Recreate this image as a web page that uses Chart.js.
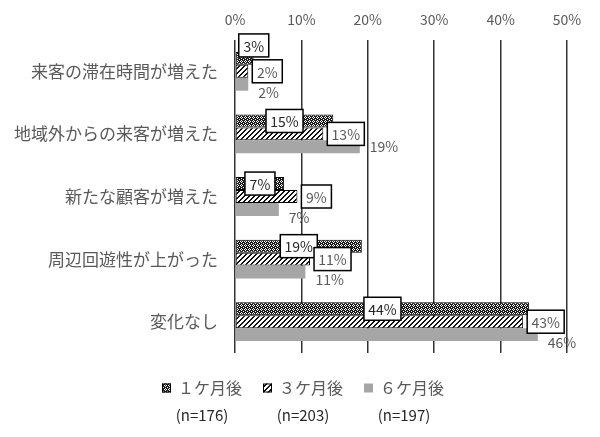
<!DOCTYPE html>
<html>
<head>
<meta charset="utf-8">
<script src="https://cdn.jsdelivr.net/npm/chart.js@4.4.0/dist/chart.umd.min.js"></script>
<style>
    html, body { margin: 0; padding: 0; background: #fff; }
    #wrap { width: 600px; height: 437px; }
</style>
</head>
<body>
<div id="wrap"><canvas id="chart" width="600" height="437"></canvas></div>
<script>
// データ
const categories = ['来客の滞在時間が増えた', '地域外からの来客が増えた', '新たな顧客が増えた', '周辺回遊性が上がった', '変化なし'];
const seriesNames = ['１ケ月後', '３ケ月後', '６ケ月後'];
const sampleSizes = ['(n=176)', '(n=203)', '(n=197)'];
const after1m = [2.8, 14.8, 7.4, 19.1, 44.3];
const after3m = [2.0, 13.3, 9.4, 11.3, 43.4];
const after6m = [2.0, 18.8, 6.6, 10.6, 45.6];
const xMax = 50;
const xStep = 10;

const FONT = '"Noto Sans CJK JP", "Noto Sans", sans-serif';
Chart.defaults.font.family = FONT;

/**
 * パターン塗り (Excel風)
 */
function makePattern(type) {
    const c = document.createElement('canvas');
    const g = c.getContext('2d');
    if (type === 'check') {
        c.width = 4; c.height = 4;
        g.fillStyle = '#1a1a1a';
        g.fillRect(0, 0, 4, 4);
        g.fillStyle = '#ffffff';
        g.fillRect(1, 0, 1, 1);
        g.fillRect(0, 1, 1, 1);
        g.fillRect(2, 1, 1, 1);
        g.fillRect(1, 2, 1, 1);
        g.fillRect(3, 3, 1, 1);
    } else {
        c.width = 5; c.height = 5;
        g.fillStyle = '#ffffff';
        g.fillRect(0, 0, 5, 5);
        g.fillStyle = '#111111';
        for (let y = 0; y < 5; y++) {
            g.fillRect((4 - y + 5) % 5, y, 1, 1);
            g.fillRect((5 - y + 5) % 5, y, 1, 1);
        }
    }
    return g.createPattern(c, 'repeat');
}

const checkFill = makePattern('check');
const hatchFill = makePattern('hatch');
const grayFill = '#a6a6a6';

function drawBox(ctx, x, y, w, h, text, color) {
    ctx.fillStyle = '#fff';
    ctx.fillRect(x, y, w, h);
    ctx.strokeStyle = '#000';
    ctx.lineWidth = 1.5;
    ctx.strokeRect(x, y, w, h);
    ctx.fillStyle = color;
    ctx.textAlign = 'center';
    ctx.fillText(text, x + w / 2, y + h / 2 + 1);
}

// データラベル
const barLabels = {
    id: 'barLabels',
    afterDatasetsDraw(chart) {
        const ctx = chart.ctx;
        ctx.save();
        ctx.font = '14px ' + FONT;
        ctx.textBaseline = 'middle';
        for (let i = 0; i < categories.length; i++) {
            const boxes = [];
            chart.data.datasets.forEach((ds, di) => {
                const el = chart.getDatasetMeta(di).data[i];
                const text = Math.round(ds.data[i]) + '%';
                const tw = ctx.measureText(text).width;
                const bw = Math.round(tw + 9), bh = 23;
                if (di === 0) {
                    let cx = (el.x + el.base) / 2, cy = el.y;
                    if (el.x - el.base < bw) {
                        cx = el.base + 3 + bw / 2;
                        cy = el.y - el.height;
                    }
                    drawBox(ctx, cx - bw / 2, cy - bh / 2, bw, bh, text, '#262626');
                } else if (di === 1) {
                    const x0 = el.x + 4;
                    drawBox(ctx, x0, el.y - bh / 2, bw, bh, text, '#595959');
                    boxes.push([x0, x0 + bw]);
                } else {
                    const x0 = el.x + 10;
                    let cy = el.y;
                    if (boxes.some(b => x0 < b[1] && x0 + tw > b[0])) cy += 8;
                    ctx.fillStyle = '#595959';
                    ctx.textAlign = 'left';
                    ctx.fillText(text, x0, cy);
                }
            });
        }
        ctx.restore();
    }
};

// 凡例 (2段)
const legend2 = {
    id: 'legend2',
    afterDraw(chart) {
        const ctx = chart.ctx;
        const fills = [checkFill, hatchFill, grayFill];
        ctx.save();
        ctx.textBaseline = 'middle';
        ctx.font = '16px ' + FONT;
        const box = 9, gap = 7, itemGap = 21;
        const widths = seriesNames.map(n => box + gap + ctx.measureText(n).width);
        const total = widths.reduce((a, b) => a + b, 0) + itemGap * (widths.length - 1);
        let x = 303 - total / 2;
        const y1 = 388, y2 = 415;
        seriesNames.forEach((name, i) => {
            ctx.fillStyle = fills[i];
            ctx.fillRect(x, y1 - box / 2, box, box);
            if (i < 2) {
                ctx.strokeStyle = '#000';
                ctx.lineWidth = 1;
                ctx.strokeRect(x + 0.5, y1 - box / 2 + 0.5, box - 1, box - 1);
            }
            ctx.font = '16px ' + FONT;
            ctx.fillStyle = '#595959';
            ctx.textAlign = 'left';
            ctx.fillText(name, x + box + gap, y1);
            ctx.font = '15px ' + FONT;
            ctx.fillStyle = '#262626';
            ctx.textAlign = 'center';
            ctx.fillText(sampleSizes[i], x + widths[i] / 2, y2);
            x += widths[i] + itemGap;
        });
        ctx.restore();
    }
};

const chart = new Chart(document.getElementById('chart'), {
    type: 'bar',
    data: {
        labels: categories,
        datasets: [
            { label: seriesNames[0], data: after1m, backgroundColor: checkFill, borderColor: '#000', borderWidth: 1, borderSkipped: false },
            { label: seriesNames[1], data: after3m, backgroundColor: hatchFill, borderColor: '#000', borderWidth: 1, borderSkipped: false },
            { label: seriesNames[2], data: after6m, backgroundColor: grayFill, borderWidth: 0 }
        ]
    },
    options: {
        indexAxis: 'y',
        responsive: false,
        animation: false,
        layout: { padding: { top: 0, right: 33, bottom: 84, left: 0 } },
        datasets: { bar: { categoryPercentage: 0.62, barPercentage: 1.0 } },
        plugins: {
            legend: { display: false },
            tooltip: { enabled: false }
        },
        scales: {
            x: {
                position: 'top',
                min: 0,
                max: xMax,
                ticks: {
                    stepSize: xStep,
                    callback: v => v + '%',
                    color: '#595959',
                    font: { size: 14 },
                    padding: 12
                },
                grid: { color: '#333', lineWidth: 1.5, drawTicks: false },
                border: { display: false },
                afterFit(scale) {
                    scale.height = 40;
                    scale.paddingLeft = 0;
                    scale.paddingRight = 0;
                }
            },
            y: {
                ticks: { color: '#595959', font: { size: 17 }, padding: 17 },
                grid: { display: false, drawTicks: false },
                border: { display: false },
                afterFit(scale) { scale.width = 235; }
            }
        }
    },
    plugins: [barLabels, legend2]
});
</script>
</body>
</html>
